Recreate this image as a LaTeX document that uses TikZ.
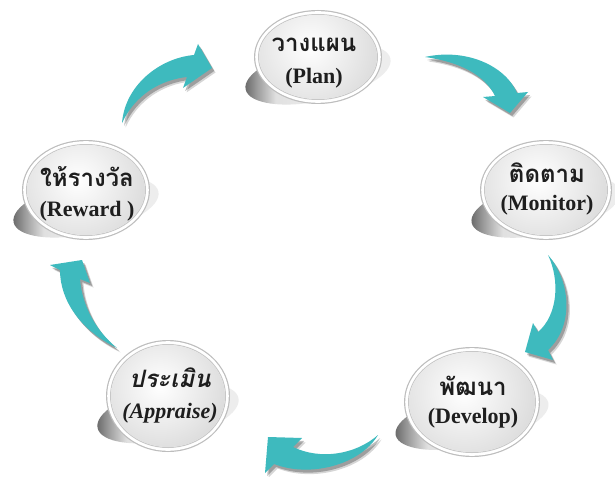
\documentclass[tikz,border=0pt]{standalone}
\usepackage{fontspec}
\setmainfont{Liberation Serif}
\newfontfamily\thaifont[Script=Thai]{Loma}
\usetikzlibrary{shapes.geometric}
\definecolor{tealA}{RGB}{62,186,190}
\definecolor{inkA}{RGB}{30,30,30}

\pgfdeclarehorizontalshading{plateshade}{100bp}{color(0bp)=(black!62); color(25bp)=(black!62); color(30bp)=(black!38); color(36bp)=(black!12); color(50bp)=(black!7); color(100bp)=(black!7)}

\tikzset{
  thtext/.style={font=\thaifont\bfseries\fontsize{24}{28}\selectfont, text=inkA, inner sep=0pt},
  entext/.style={font=\bfseries\fontsize{22}{26}\selectfont, text=inkA, inner sep=0pt},
  ringnode/.style={ellipse, fill=black!26, inner sep=0pt, draw=none},
}

\newcommand\mybubble[5]{% name, cx, cy, rx, ry
  \begin{scope}[shift={(#2,#3)}]
    \shade[shift={(0,17)}, rotate=12, shading=plateshade]
      (0,0) ellipse [x radius={(#4+10)*1pt}, y radius=27pt];
    \node[ringnode, minimum width={2*#4*1pt}, minimum height={2*#5*1pt}] (#1) at (0,0) {};
    \fill[white] (0,0) ellipse [x radius={(#4-1.2)*1pt}, y radius={(#5-1.2)*1pt}];
    \draw[black!22, line width=1pt] (0,0) ellipse [x radius={(#4-4.5)*1pt}, y radius={(#5-4.5)*1pt}];
    \begin{scope}
      \clip (0,0) ellipse [x radius={(#4-5)*1pt}, y radius={(#5-5)*1pt}];
      \shade[inner color=white, outer color=black!15] (-8,-10) circle [radius={(#4+12)*1pt}];
    \end{scope}
  \end{scope}
}

\newcommand\tealarrow[1]{%
  \fill[black, opacity=0.16, shift={(3.5pt,-4.5pt)}] #1;
  \fill[black, opacity=0.26, shift={(2.2pt,-3pt)}] #1;
  \fill[tealA] #1;
}

\begin{document}
\begin{tikzpicture}[x=1pt,y=-1pt]
  \fill[white] (0,0) rectangle (615,476);
  \useasboundingbox (0,0) rectangle (615,476);

  % bubbles
  \mybubble{plan}{318}{57}{64}{47}
  \mybubble{monitor}{546}{190}{66}{50}
  \mybubble{develop}{472}{402}{68}{55}
  \mybubble{appraise}{168}{396}{62}{56}
  \mybubble{reward}{86}{190}{64}{50}

  % texts
  \node[thtext] (planTh) at (314,45) {วางแผน};
  \node[entext] (planEn) at (314,78) {(Plan)};
  \node[thtext] (monitorTh) at (547,173) {ติดตาม};
  \node[entext] (monitorEn) at (547,205) {(Monitor)};
  \node[thtext] (developTh) at (473,386) {พัฒนา};
  \node[entext] (developEn) at (473,418) {(Develop)};
  \node[thtext, font=\thaifont\bfseries\itshape\fontsize{24}{28}\selectfont] (appraiseTh) at (170,378) {ประเมิน};
  \node[entext, font=\bfseries\itshape\fontsize{22}{26}\selectfont] (appraiseEn) at (170,413) {(Appraise)};
  \node[thtext] (rewardTh) at (87,177) {ให้รางวัล};
  \node[entext] (rewardEn) at (87,211) {(Reward )};

  % arrows
  \tealarrow{(122,123) .. controls (125,85) and (160,58) .. (194,55) -- (198,44) -- (212,68) -- (183,88) -- (187,77) .. controls (160,80) and (135,95) .. (122,123) -- cycle}
  \tealarrow{(425,57) .. controls (465,48) and (505,65) .. (517,93) -- (528,92) -- (510,113) -- (483,97) -- (495,96) .. controls (485,75) and (460,62) .. (425,57) -- cycle}
  \tealarrow{(548,255) .. controls (570,280) and (575,325) .. (548,350) -- (553,360) -- (525,352) -- (533,323) -- (538,332) .. controls (558,315) and (560,280) .. (548,255) -- cycle}
  \tealarrow{(378,435) .. controls (360,465) and (310,478) .. (274,464) -- (265,473) -- (268,437) -- (302,438) -- (293,447) .. controls (320,460) and (355,455) .. (378,435) -- cycle}
  \tealarrow{(117,348) .. controls (80,330) and (60,300) .. (60,270) -- (50,265) -- (82,260) -- (90,283) -- (80,279) .. controls (82,305) and (95,330) .. (117,348) -- cycle}
\end{tikzpicture}
\end{document}
